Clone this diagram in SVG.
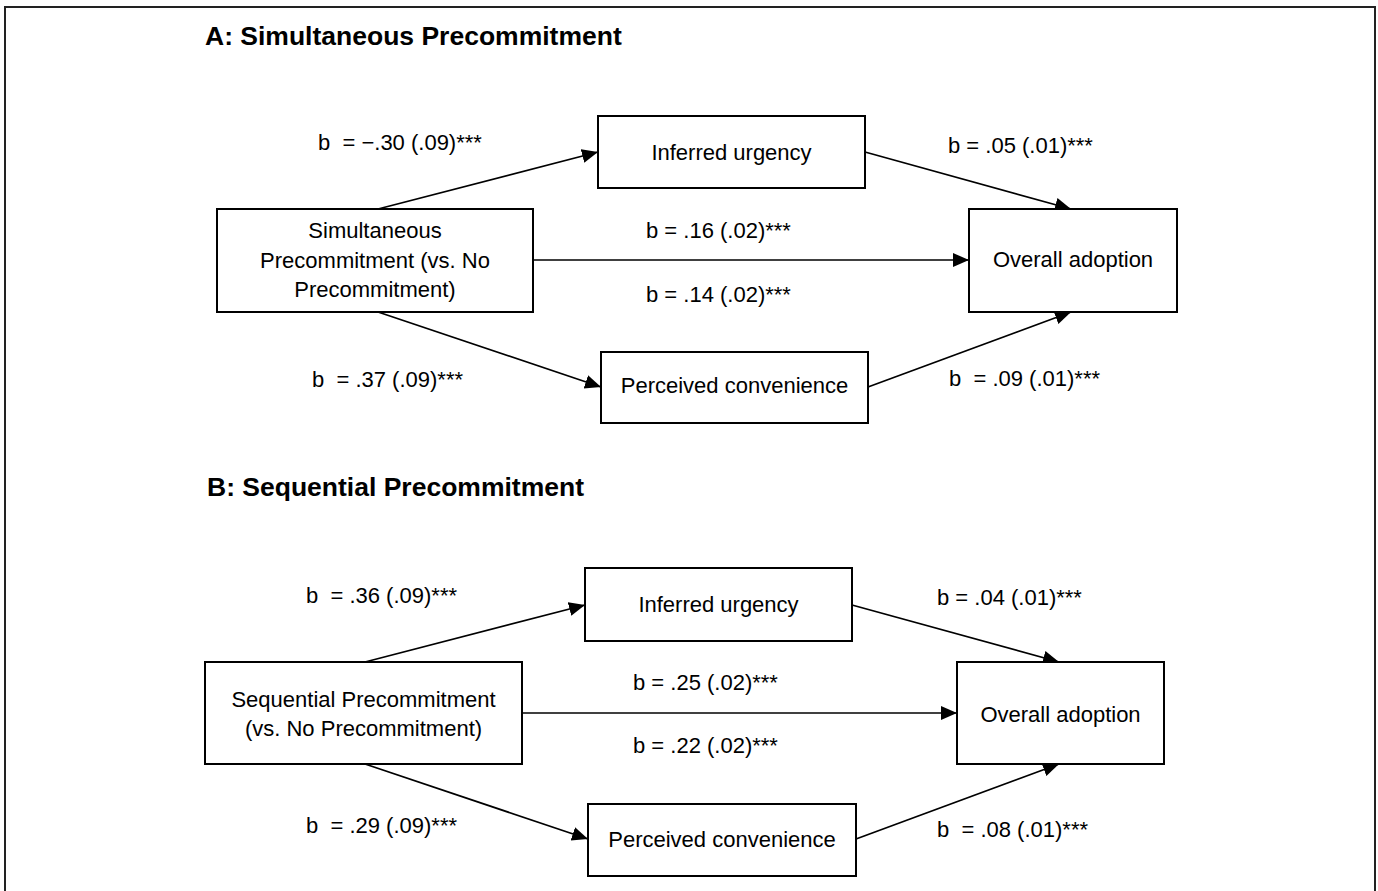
<svg xmlns="http://www.w3.org/2000/svg" width="1378" height="891" viewBox="0 0 1378 891">
<style>
text{font-family:"Liberation Sans",Arial,sans-serif;font-size:22px;fill:#000;white-space:pre}
.title{font-weight:bold;font-size:26.5px}
.c{text-anchor:middle}
.box{fill:#fff;stroke:#000;stroke-width:2}
.edge{fill:none;stroke:#000;stroke-width:1.7;marker-end:url(#arr)}
</style>
<defs>
<marker id="arr" markerUnits="userSpaceOnUse" markerWidth="20" markerHeight="18" refX="16" refY="7" orient="auto">
<path d="M0,0 L16,7 L0,14 z" fill="#000"/>
</marker>
</defs>
<rect width="1378" height="891" fill="#fff"/>
<path d="M5,891 V7 H1375 V891" fill="none" stroke="#222" stroke-width="2"/>

<text class="title" x="205" y="45">A: Simultaneous Precommitment</text>
<text class="title" x="207" y="496">B: Sequential Precommitment</text>

<g id="connectors">
<line class="edge" x1="378" y1="209" x2="598" y2="152"/>
<line class="edge" x1="533" y1="260" x2="969" y2="260"/>
<line class="edge" x1="378" y1="312" x2="601" y2="387"/>
<line class="edge" x1="865" y1="152" x2="1071" y2="209"/>
<line class="edge" x1="868" y1="387" x2="1071" y2="312"/>

<line class="edge" x1="365" y1="662" x2="585" y2="605"/>
<line class="edge" x1="522" y1="713" x2="957" y2="713"/>
<line class="edge" x1="365" y1="764" x2="588" y2="839"/>
<line class="edge" x1="852" y1="605" x2="1059" y2="662"/>
<line class="edge" x1="856" y1="839" x2="1059" y2="764"/>
</g>

<g id="edge-labels">
<text x="318" y="150">b  = −.30 (.09)***</text>
<text x="948" y="153">b = .05 (.01)***</text>
<text x="646" y="238">b = .16 (.02)***</text>
<text x="646" y="302">b = .14 (.02)***</text>
<text x="312" y="387">b  = .37 (.09)***</text>
<text x="949" y="386">b  = .09 (.01)***</text>

<text x="306" y="603">b  = .36 (.09)***</text>
<text x="937" y="605">b = .04 (.01)***</text>
<text x="633" y="690">b = .25 (.02)***</text>
<text x="633" y="753">b = .22 (.02)***</text>
<text x="306" y="833">b  = .29 (.09)***</text>
<text x="937" y="837">b  = .08 (.01)***</text>
</g>

<g id="a-simultaneous">
<rect class="box" x="217" y="209" width="316" height="103"/>
<text class="c" x="375" y="238">Simultaneous</text>
<text class="c" x="375" y="268">Precommitment (vs. No</text>
<text class="c" x="375" y="297">Precommitment)</text>
</g>
<g id="a-urgency">
<rect class="box" x="598" y="116" width="267" height="72"/>
<text class="c" x="731.5" y="160">Inferred urgency</text>
</g>
<g id="a-convenience">
<rect class="box" x="601" y="352" width="267" height="71"/>
<text class="c" x="734.5" y="393">Perceived convenience</text>
</g>
<g id="a-adoption">
<rect class="box" x="969" y="209" width="208" height="103"/>
<text class="c" x="1073" y="267">Overall adoption</text>
</g>

<g id="b-sequential">
<rect class="box" x="205" y="662" width="317" height="102"/>
<text class="c" x="363.5" y="707">Sequential Precommitment</text>
<text class="c" x="363.5" y="736">(vs. No Precommitment)</text>
</g>
<g id="b-urgency">
<rect class="box" x="585" y="568" width="267" height="73"/>
<text class="c" x="718.5" y="612">Inferred urgency</text>
</g>
<g id="b-convenience">
<rect class="box" x="588" y="804" width="268" height="72"/>
<text class="c" x="722" y="847">Perceived convenience</text>
</g>
<g id="b-adoption">
<rect class="box" x="957" y="662" width="207" height="102"/>
<text class="c" x="1060.5" y="722">Overall adoption</text>
</g>
</svg>
